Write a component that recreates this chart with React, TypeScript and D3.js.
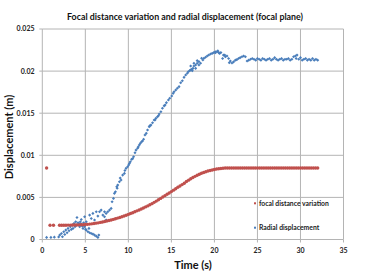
import React from 'react';
import * as d3 from 'd3';

// x ticks (s) and y ticks (m)
const xTicks = [0, 5, 10, 15, 20, 25, 30, 35];
const xTickLabels = ['0', '5', '10', '15', '20', '25', '30', '35'];
const yTicks = [0, 0.005, 0.01, 0.015, 0.02, 0.025];
const yTickLabels = ['0', '0.005', '0.01', '0.015', '0.02', '0.025'];

const legendLabels = ['focal distance variation', 'Radial displacement'];

// red series [time, displacement]
const redSeries: [number, number][] = [
  [0.5, 0.0085], [0.9, 0.0017], [1.3, 0.0017],
  [2.0, 0.0017], [2.25, 0.0017], [2.5, 0.0017], [2.75, 0.0017], [3.0, 0.00171],
  [3.25, 0.00171], [3.5, 0.00172], [3.75, 0.00172], [4.0, 0.00173], [4.25, 0.00174],
  [4.5, 0.00175], [4.75, 0.00176], [5.0, 0.00178], [5.25, 0.0018], [5.5, 0.00183],
  [5.75, 0.00186], [6.0, 0.0019], [6.25, 0.00194], [6.5, 0.00198], [6.75, 0.00203],
  [7.0, 0.00208], [7.25, 0.00213], [7.5, 0.00219], [7.75, 0.00225], [8.0, 0.00232],
  [8.25, 0.00239], [8.5, 0.00246], [8.75, 0.00254], [9.0, 0.00262], [9.25, 0.0027],
  [9.5, 0.00279], [9.75, 0.00288], [10.0, 0.00298], [10.25, 0.00308], [10.5, 0.00318],
  [10.75, 0.00329], [11.0, 0.0034], [11.25, 0.00351], [11.5, 0.00363], [11.75, 0.00375],
  [12.0, 0.00387], [12.25, 0.00399], [12.5, 0.00412], [12.75, 0.00426], [13.0, 0.00441],
  [13.25, 0.00456], [13.5, 0.00472], [13.75, 0.00488], [14.0, 0.00505], [14.25, 0.00521],
  [14.5, 0.00537], [14.75, 0.00553], [15.0, 0.00569], [15.25, 0.00586], [15.5, 0.00603],
  [15.75, 0.0062], [16.0, 0.00636], [16.25, 0.00652], [16.5, 0.00668], [16.75, 0.00688],
  [17.0, 0.00705], [17.25, 0.00721], [17.5, 0.00736], [17.75, 0.0075], [18.0, 0.00763],
  [18.25, 0.00775], [18.5, 0.00786], [18.75, 0.00796], [19.0, 0.00805], [19.25, 0.00813],
  [19.5, 0.0082], [19.75, 0.00826], [20.0, 0.00832], [20.25, 0.00837], [20.5, 0.00841],
  [20.75, 0.00844], [21.0, 0.00847], [21.25, 0.00849], [21.5, 0.0085], [21.75, 0.0085],
  [22.0, 0.0085], [22.25, 0.0085], [22.5, 0.0085], [22.75, 0.0085], [23.0, 0.0085],
  [23.25, 0.0085], [23.5, 0.0085], [23.75, 0.0085], [24.0, 0.0085], [24.25, 0.0085],
  [24.5, 0.0085], [24.75, 0.0085], [25.0, 0.0085], [25.25, 0.0085], [25.5, 0.0085],
  [25.75, 0.0085], [26.0, 0.0085], [26.25, 0.0085], [26.5, 0.0085], [26.75, 0.0085],
  [27.0, 0.0085], [27.25, 0.0085], [27.5, 0.0085], [27.75, 0.0085], [28.0, 0.0085],
  [28.25, 0.0085], [28.5, 0.0085], [28.75, 0.0085], [29.0, 0.0085], [29.25, 0.0085],
  [29.5, 0.0085], [29.75, 0.0085], [30.0, 0.0085], [30.25, 0.0085], [30.5, 0.0085],
  [30.75, 0.0085], [31.0, 0.0085], [31.25, 0.0085], [31.5, 0.0085], [31.75, 0.0085],
  [32.0, 0.0085],
];

// blue series [time, displacement]
const blueSeries: [number, number][] = [
  [0.5, 0.00025], [1.0, 0.00025], [1.4, 0.00028], [1.9, 0.0003],
  [2.03, 0.00052], [2.22, 0.00072], [2.34, 0.00032], [2.49, 0.00092], [2.61, 0.0006],
  [2.73, 0.00112], [2.88, 0.0008], [2.99, 0.00132], [3.11, 0.00104], [3.26, 0.00151],
  [3.38, 0.0012], [3.5, 0.00171], [3.57, 0.00132], [3.69, 0.00191], [3.8, 0.00151],
  [3.88, 0.00211], [3.96, 0.00171], [4.03, 0.00262], [4.15, 0.00199], [4.26, 0.00191],
  [4.34, 0.00151], [4.42, 0.00211], [4.53, 0.00183], [4.53, 0.00238], [4.65, 0.00159],
  [4.73, 0.00132], [4.8, 0.00199], [4.92, 0.00151], [4.92, 0.0027], [5.03, 0.0012],
  [5.11, 0.00112], [5.11, 0.00211], [5.3, 0.00092], [5.42, 0.00132], [5.5, 0.0008],
  [5.5, 0.0029], [5.69, 0.00072], [5.69, 0.0025], [5.88, 0.00064], [5.88, 0.0031],
  [6.07, 0.00052], [6.07, 0.00231], [6.27, 0.0004], [6.27, 0.0033], [6.46, 0.00025],
  [6.46, 0.00278], [6.57, 0.00052], [6.65, 0.00329], [6.84, 0.00349], [7.04, 0.0029],
  [7.23, 0.0027], [7.23, 0.0033], [7.42, 0.00231], [7.42, 0.0031], [7.61, 0.00329],
  [7.81, 0.00349], [8.0, 0.00369], [8.11, 0.00448], [8.27, 0.00488], [8.38, 0.00548],
  [8.5, 0.00567], [8.65, 0.00626], [8.7, 0.0061], [8.77, 0.00646], [8.96, 0.00686],
  [9.05, 0.0073], [9.15, 0.00706], [9.34, 0.00765], [9.54, 0.00785], [9.6, 0.0082],
  [9.73, 0.00845], [9.92, 0.00864], [10.04, 0.00884], [10.12, 0.00904], [10.23, 0.00923],
  [10.38, 0.00952], [10.5, 0.0096], [10.61, 0.00983], [10.77, 0.0103], [10.89, 0.01062],
  [11.07, 0.01083], [11.15, 0.011], [11.27, 0.01122], [11.39, 0.01142], [11.54, 0.01161],
  [11.65, 0.0117], [11.77, 0.0119], [11.93, 0.01241], [12.08, 0.01261], [12.23, 0.013],
  [12.42, 0.01339], [12.5, 0.0135], [12.62, 0.01359], [12.81, 0.01387], [13.0, 0.01419],
  [13.1, 0.0142], [13.2, 0.01439], [13.38, 0.01458], [13.5, 0.0147], [13.58, 0.0149],
  [13.78, 0.01518], [13.96, 0.01558], [14.16, 0.01587], [14.27, 0.01597], [14.42, 0.01625],
  [14.65, 0.01657], [14.81, 0.01677], [15.04, 0.01704], [15.2, 0.01736], [15.31, 0.01755],
  [15.51, 0.01775], [15.69, 0.01796], [15.89, 0.01815], [16.08, 0.01862], [16.27, 0.01886],
  [16.47, 0.01926], [16.66, 0.01954], [16.85, 0.01974], [16.96, 0.01993], [17.12, 0.02005],
  [17.24, 0.02013], [17.24, 0.02061], [17.35, 0.02021], [17.43, 0.02005], [17.51, 0.02033],
  [17.62, 0.02061], [17.62, 0.02093], [17.82, 0.02073], [17.82, 0.02033], [18.0, 0.02093],
  [18.0, 0.02124], [18.2, 0.02112], [18.2, 0.02073], [18.39, 0.02093], [18.51, 0.02152],
  [18.66, 0.02132], [18.78, 0.02152], [18.97, 0.02164], [19.16, 0.02179], [19.35, 0.02191],
  [19.55, 0.02203], [19.74, 0.02211], [19.93, 0.02219], [20.1, 0.0223], [20.13, 0.02219],
  [20.31, 0.02231], [20.4, 0.0224], [20.5, 0.0222], [20.6, 0.0221], [20.75, 0.0222],
  [20.95, 0.0215], [21.05, 0.0219], [21.2, 0.0219], [21.27, 0.0217], [21.46, 0.0218],
  [21.65, 0.0215], [21.73, 0.021], [21.85, 0.0212], [22.04, 0.02096], [22.23, 0.0211],
  [22.43, 0.0213], [22.6, 0.02136], [22.8, 0.0215], [22.99, 0.0216], [23.2, 0.0217],
  [23.4, 0.0218], [23.6, 0.0217], [23.8, 0.0212], [23.99, 0.0213], [24.2, 0.0214],
  [24.4, 0.0215], [24.6, 0.0214], [24.8, 0.0213], [25.0, 0.0215], [25.2, 0.0214],
  [25.4, 0.0213], [25.6, 0.0215], [25.8, 0.0214], [26.0, 0.0213], [26.2, 0.0214],
  [26.4, 0.0215], [26.6, 0.0213], [26.8, 0.0214], [27.0, 0.0216], [27.2, 0.0214],
  [27.4, 0.0213], [27.6, 0.0214], [27.8, 0.0215], [28.0, 0.0213], [28.2, 0.0214],
  [28.4, 0.0214], [28.6, 0.0215], [28.8, 0.0213], [29.0, 0.0214], [29.2, 0.0217],
  [29.4, 0.0218], [29.5, 0.0215], [29.6, 0.0219], [29.8, 0.0214], [30.0, 0.0216],
  [30.2, 0.0213], [30.4, 0.0214], [30.6, 0.0215], [30.8, 0.0213], [31.0, 0.0214],
  [31.2, 0.0213], [31.4, 0.0215], [31.6, 0.0213], [31.8, 0.0214], [32.0, 0.0213],
];

const RED = '#c0504d';
const BLUE = '#4a7ebb';
const GRID = '#b4b4b4';
const FONT = 'Lato, "Liberation Sans", sans-serif';

export default function App() {
  const width = 371;
  const height = 278;

  const x = d3.scaleLinear().domain([0, 35]).range([42.3, 343.5]);
  const y = d3.scaleLinear().domain([0, 0.025]).range([239.5, 29]);

  return (
    <svg
      width={width}
      height={height}
      style={{ position: 'absolute', left: 0, top: 0, background: '#fff' }}
      fontFamily={FONT}
    >
      <rect width={width} height={height} fill="#fff" />

      {/* gridlines */}
      {yTicks.map(t => (
        <line key={'gy' + t} x1={x(0)} x2={x(35)} y1={y(t)} y2={y(t)} stroke={GRID} strokeWidth={1} />
      ))}
      {xTicks.map(t => (
        <line key={'gx' + t} x1={x(t)} x2={x(t)} y1={y(0)} y2={y(0.025)} stroke={GRID} strokeWidth={1} />
      ))}

      {/* axis ticks */}
      {xTicks.map(t => (
        <line key={'tx' + t} x1={x(t)} x2={x(t)} y1={y(0)} y2={y(0) + 3} stroke={GRID} />
      ))}
      {yTicks.map(t => (
        <line key={'ty' + t} x1={x(0) - 3} x2={x(0)} y1={y(t)} y2={y(t)} stroke={GRID} />
      ))}

      {/* tick labels */}
      {xTicks.map((t, i) => (
        <text key={'lx' + t} x={x(t)} y={252.5} fontSize={7} fontWeight="bold" textAnchor="middle" fill="#222">
          {xTickLabels[i]}
        </text>
      ))}
      {yTicks.map((t, i) => (
        <text key={'ly' + t} x={34.5} y={y(t)} dy="0.35em" fontSize={7} fontWeight="bold" textAnchor="end" fill="#222">
          {yTickLabels[i]}
        </text>
      ))}

      {/* series */}
      {blueSeries.map((d, i) => (
        <rect
          key={'b' + i}
          x={x(d[0]) - 1.1}
          y={y(d[1]) - 1.1}
          width={2.2}
          height={2.2}
          fill={BLUE}
          transform={`rotate(45 ${x(d[0])} ${y(d[1])})`}
        />
      ))}
      {redSeries.map((d, i) => (
        <circle key={'r' + i} cx={x(d[0])} cy={y(d[1])} r={1.7} fill={RED} />
      ))}

      {/* title */}
      <text x={185} y={19.5} fontSize={8.6} fontWeight="bold" textAnchor="middle" fill="#111"
        textLength={236} lengthAdjust="spacingAndGlyphs">
        Focal distance variation and radial displacement (focal plane)
      </text>

      {/* axis titles */}
      <text x={193} y={268.5} fontSize={11} fontWeight="bold" textAnchor="middle" fill="#111">
        Time (s)
      </text>
      <text
        transform={`translate(13,137) rotate(-90)`}
        fontSize={11}
        fontWeight="bold"
        textAnchor="middle"
        fill="#111"
      >
        Displacement (m)
      </text>

      {/* legend */}
      <g fontSize={6.8} fontWeight="bold" fill="#222">
        <rect x={254} y={202.3} width={2} height={2} fill={RED} />
        <text x={259} y={203.3} dy="0.35em">{legendLabels[0]}</text>
        <rect x={254} y={226.7} width={2} height={2} fill={BLUE} />
        <text x={259} y={227.7} dy="0.35em">{legendLabels[1]}</text>
      </g>
    </svg>
  );
}
